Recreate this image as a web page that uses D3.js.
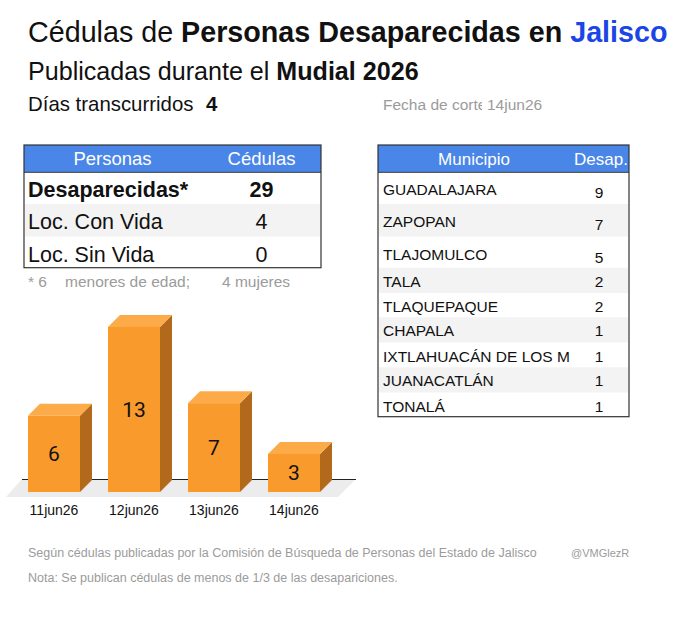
<!DOCTYPE html>
<html><head><meta charset="utf-8">
<script src="https://cdn.jsdelivr.net/npm/d3@7"></script>
<style>
body{margin:0;background:#fff;}
svg{display:block;font-family:"Liberation Sans",Arial,Helvetica,sans-serif;}
</style></head>
<body>
<script>
// ---- data ----
const dates = ["11jun26","12jun26","13jun26","14jun26"];
const counts = [6,13,7,3];
const summaryHeader = ["Personas","Cédulas"];
const summaryLabels = ["Desaparecidas*","Loc. Con Vida","Loc. Sin Vida"];
const summaryValues = [29,4,0];
const muniHeader = ["Municipio","Desap."];
const municipios = ["GUADALAJARA","ZAPOPAN","TLAJOMULCO","TALA","TLAQUEPAQUE","CHAPALA","IXTLAHUACÁN DE LOS MEMBRILLOS","JUANACATLÁN","TONALÁ"];
const muniValues = [9,7,5,2,2,1,1,1,1];
const diasTranscurridos = 4;
const fechaCorte = "14jun26";
const menores = 6, mujeres = 4;

const W=680,H=622;
const svg=d3.select("body").append("svg").attr("width",W).attr("height",H);
const defs=svg.append("defs");
const gray="#9b9b9b";

// ---- titles ----
const t1=svg.append("text").attr("x",28).attr("y",42).attr("font-size",28.7).attr("fill","#111");
t1.append("tspan").text("Cédulas de ");
t1.append("tspan").attr("font-weight","bold").text("Personas Desaparecidas en ");
t1.append("tspan").attr("font-weight","bold").attr("fill","#1a46e6").text("Jalisco");

const t2=svg.append("text").attr("x",28).attr("y",80).attr("font-size",25.1).attr("fill","#111");
t2.append("tspan").text("Publicadas durante el ");
t2.append("tspan").attr("font-weight","bold").text("Mudial 2026");

const t3=svg.append("text").attr("x",28).attr("y",111).attr("font-size",20.4).attr("fill","#111");
t3.append("tspan").text("Días transcurridos");
t3.append("tspan").attr("x",206).attr("font-weight","bold").text(diasTranscurridos);

defs.append("clipPath").attr("id","clipFecha").append("rect").attr("x",380).attr("y",85).attr("width",102).attr("height",30);
svg.append("text").attr("x",383).attr("y",110).attr("font-size",15.5).attr("fill",gray)
  .attr("clip-path","url(#clipFecha)").text("Fecha de corte");
svg.append("text").attr("x",487).attr("y",110).attr("font-size",15.5).attr("fill",gray).text(fechaCorte);

// ---- summary table ----
const s={x:24,w:297,top:145,head:172.3};
const sRows=[172.3,204,236.7,267.7];
svg.append("rect").attr("x",s.x).attr("y",s.top).attr("width",s.w).attr("height",s.head-s.top).attr("fill","#4a86e8");
svg.selectAll(".srowbg").data(summaryLabels).join("rect")
  .attr("x",s.x+1).attr("y",(d,i)=>sRows[i]).attr("width",s.w-2).attr("height",(d,i)=>sRows[i+1]-sRows[i])
  .attr("fill",(d,i)=>i%2===1?"#f3f3f3":"#fff");
svg.append("line").attr("x1",s.x).attr("x2",s.x+s.w).attr("y1",s.head).attr("y2",s.head).attr("stroke","#333");
svg.append("rect").attr("x",s.x).attr("y",s.top).attr("width",s.w).attr("height",sRows[3]-s.top)
  .attr("fill","none").attr("stroke","#333").attr("stroke-width",1.2);
const sColX=[112.5,261.5];
svg.selectAll(".shead").data(summaryHeader).join("text")
  .attr("x",(d,i)=>sColX[i]).attr("y",165).attr("text-anchor","middle").attr("font-size",18.5).attr("fill","#fff").text(d=>d);
svg.selectAll(".slab").data(summaryLabels).join("text")
  .attr("x",28).attr("y",(d,i)=>sRows[i]+25).attr("font-size",21.5).attr("fill","#111")
  .attr("font-weight",(d,i)=>i===0?"bold":"normal").text(d=>d);
svg.selectAll(".sval").data(summaryValues).join("text")
  .attr("x",sColX[1]).attr("y",(d,i)=>sRows[i]+25).attr("text-anchor","middle").attr("font-size",21.5).attr("fill","#111")
  .attr("font-weight",(d,i)=>i===0?"bold":"normal").text(d=>d);

const fn=svg.append("text").attr("y",287).attr("font-size",15.5).attr("fill",gray);
fn.append("tspan").attr("x",28).text("* "+menores);
fn.append("tspan").attr("x",65).text("menores de edad;");
fn.append("tspan").attr("x",222).text(mujeres+" mujeres");

// ---- municipio table ----
const m={x:378,w:251,top:145,head:172.3};
const mRows=[172.3,204,236.7,267.7,293.3,317.3,342.7,367.3,392.7,416.7];
svg.append("rect").attr("x",m.x).attr("y",m.top).attr("width",m.w).attr("height",m.head-m.top).attr("fill","#4a86e8");
svg.selectAll(".mrowbg").data(municipios).join("rect")
  .attr("x",m.x+1).attr("y",(d,i)=>mRows[i]).attr("width",m.w-2).attr("height",(d,i)=>mRows[i+1]-mRows[i])
  .attr("fill",(d,i)=>i%2===1?"#f3f3f3":"#fff");
svg.append("line").attr("x1",m.x).attr("x2",m.x+m.w).attr("y1",m.head).attr("y2",m.head).attr("stroke","#333");
svg.append("rect").attr("x",m.x).attr("y",m.top).attr("width",m.w).attr("height",mRows[9]-m.top)
  .attr("fill","none").attr("stroke","#333").attr("stroke-width",1.2);
defs.append("clipPath").attr("id","clipMH").append("rect").attr("x",m.x).attr("y",m.top).attr("width",m.w).attr("height",30);
defs.append("clipPath").attr("id","clipMN").append("rect").attr("x",m.x).attr("y",m.top).attr("width",192).attr("height",300);
svg.append("text").attr("x",474).attr("y",165).attr("text-anchor","middle").attr("font-size",17).attr("fill","#fff").text(muniHeader[0]);
svg.append("text").attr("x",574).attr("y",165).attr("font-size",17).attr("fill","#fff").attr("clip-path","url(#clipMH)").text(muniHeader[1]);
const names=svg.selectAll(".mname").data(municipios).join("text")
  .attr("x",383).attr("y",(d,i)=>i<3?mRows[i]+23:mRows[i]+19).attr("font-size",15.5).attr("fill","#111")
  .attr("clip-path","url(#clipMN)").text(d=>d);
// truncate long names so the cell text stops at the column edge (last glyph cut by clip)
names.each(function(d){
  const el=this; let t=d;
  while(t.length>1 && el.getComputedTextLength()>196){ t=t.slice(0,-1); el.textContent=t; }
});
svg.selectAll(".mval").data(muniValues).join("text")
  .attr("x",599).attr("y",(d,i)=>i<3?mRows[i]+26:mRows[i]+19).attr("text-anchor","middle").attr("font-size",15.5).attr("fill","#111").text(d=>d);

// ---- 3D bar chart ----
const x=d3.scaleBand().domain(dates).range([28,320]).paddingInner(0.35).paddingOuter(0);
const y=d3.scaleLinear().domain([0,13]).range([492,327]);
const dep=12;
const base=y(0);
svg.append("polygon").attr("points",[[6,497],[338,497],[356,479],[22,479]].map(p=>p.join(",")).join(" ")).attr("fill","#ececec");
svg.append("line").attr("x1",22).attr("x2",356).attr("y1",479.5).attr("y2",479.5).attr("stroke","#222").attr("stroke-width",1);

const bars=svg.selectAll(".bar").data(dates.map((d,i)=>({d,v:counts[i]}))).join("g");
bars.append("polygon").attr("fill","#b3691c").attr("points",d=>{
  const x0=x(d.d)+x.bandwidth(),yt=y(d.v);
  return [[x0,yt],[x0+dep,yt-dep],[x0+dep,base-dep],[x0,base]].map(p=>p.join(",")).join(" ");});
bars.append("polygon").attr("fill","#fcab48").attr("points",d=>{
  const x0=x(d.d),x1=x0+x.bandwidth(),yt=y(d.v);
  return [[x0,yt],[x1,yt],[x1+dep,yt-dep],[x0+dep,yt-dep]].map(p=>p.join(",")).join(" ");});
bars.append("rect").attr("fill","#f89a2c").attr("x",d=>x(d.d)).attr("y",d=>y(d.v))
  .attr("width",x.bandwidth()).attr("height",d=>base-y(d.v));
bars.append("text").attr("x",d=>x(d.d)+x.bandwidth()/2).attr("y",d=>(y(d.v)+base)/2+7.5)
  .attr("text-anchor","middle").attr("font-family","Roboto,sans-serif").attr("font-size",21).attr("fill","#111").text(d=>d.v);
svg.selectAll(".xl").data(dates).join("text")
  .attr("x",d=>x(d)+x.bandwidth()/2).attr("y",515).attr("text-anchor","middle").attr("font-size",14).attr("fill","#111").text(d=>d);

// ---- footer ----
svg.append("text").attr("x",28).attr("y",557).attr("font-size",12.5).attr("fill",gray)
  .text("Según cédulas publicadas por la Comisión de Búsqueda de Personas del Estado de Jalisco");
svg.append("text").attr("x",571).attr("y",557).attr("font-size",11).attr("fill",gray).text("@VMGlezR");
svg.append("text").attr("x",28).attr("y",582).attr("font-size",12.5).attr("fill",gray)
  .text("Nota: Se publican cédulas de menos de 1/3 de las desapariciones.");
</script>
</body></html>
